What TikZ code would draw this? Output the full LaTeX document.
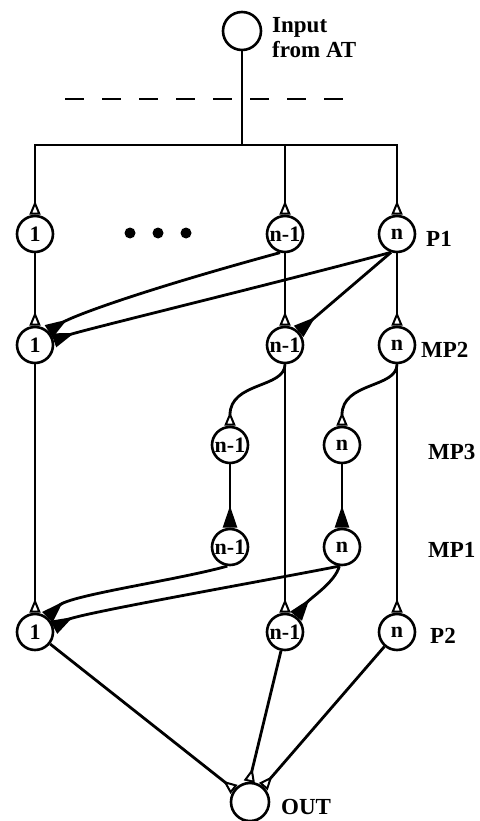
\documentclass[tikz,border=0pt]{standalone}
\usepackage{fontspec}
\setmainfont{Liberation Serif}
\usetikzlibrary{arrows.meta}

\tikzset{
  unit/.style={circle, draw, line width=2.6pt, minimum size=36pt, inner sep=0pt,
               font=\bfseries\fontsize{22}{24}\selectfont},
  port/.style={unit, minimum size=38pt},
  wire/.style={line width=2.8pt},
  excite/.style={wire, -{Triangle[open, reversed, length=14pt, width=11pt, line width=2pt]}},
  inhibit/.style={wire, -{Triangle[reversed, length=22pt, width=14pt]}},
  lbl/.style={font=\bfseries\fontsize{23}{25}\selectfont, anchor=base west, inner sep=0pt},
}

\begin{document}
\begin{tikzpicture}[x=1pt,y=1pt]
\useasboundingbox (0,0) rectangle (479,-821);

% input unit and the separating boundary
\node[port] (in) at (242,-31) {};
\node[lbl] (inA) at (272,-33) {Input};
\node[lbl] (inB) at (272,-58) {from AT};
\draw[wire, dash pattern=on 19pt off 18pt] (65,-99) -- (355,-99);

% layer P1
\node[unit] (p1a) at (35,-234) {1};
\node[unit] (p1b) at (285,-234) {n-1};
\node[unit] (p1c) at (397,-234) {n};
\foreach \x in {130,158,186} \fill (\x,-233) circle (5.5pt);

% layer MP2
\node[unit] (mp2a) at (35,-345) {1};
\node[unit] (mp2b) at (285,-345) {n-1};
\node[unit] (mp2c) at (397,-345) {n};

% layer MP3
\node[unit] (mp3a) at (230,-445) {n-1};
\node[unit] (mp3b) at (342,-445) {n};

% layer MP1
\node[unit] (mp1a) at (230,-547) {n-1};
\node[unit] (mp1b) at (342,-547) {n};

% layer P2
\node[unit] (p2a) at (35,-632) {1};
\node[unit] (p2b) at (285,-632) {n-1};
\node[unit] (p2c) at (397,-632) {n};

% output unit
\node[port] (out) at (250,-802) {};

% layer names
\node[lbl] (lP1) at (426,-246) {P1};
\node[lbl] (lMP2) at (421,-357) {MP2};
\node[lbl] (lMP3) at (428,-459) {MP3};
\node[lbl] (lMP1) at (428,-557) {MP1};
\node[lbl] (lP2) at (430,-643) {P2};
\node[lbl] (lOUT) at (281,-814) {OUT};

% input bus
\coordinate (bj) at (242,-145);
\draw[wire] (in) -- (bj);
\draw[excite] (bj) -| (p1a);
\draw[excite] (bj) -| (p1b);
\draw[excite] (bj) -| (p1c);

% P1 -> MP2
\draw[excite] (p1a) -- (mp2a);
\draw[excite] (p1b) -- (mp2b);
\draw[excite] (p1c) -- (mp2c);
\draw[inhibit] (p1b.255) .. controls +(-150,-41) and +(22,14) .. (mp2a.45);
\draw[inhibit] (p1c.252) .. controls +(-120,-32) and +(28,10) .. (mp2a.14);
\draw[inhibit] (p1c.252) -- (mp2b.45);

% MP2 -> MP3
\draw[excite] (mp2b.south) .. controls +(0,-24) and +(0,44) .. (mp3a.north);
\draw[excite] (mp2c.south) .. controls +(0,-24) and +(0,44) .. (mp3b.north);

% MP3 -> MP1
\draw[inhibit] (mp3a) -- (mp1a);
\draw[inhibit] (mp3b) -- (mp1b);

% MP1 -> P2
\draw[inhibit] (mp1a.262) .. controls +(-50,-14) and +(22,22) .. (p2a.50);
\draw[inhibit] (mp1b.262) .. controls +(-60,-12) and +(26,14) .. (p2a.14);
\draw[inhibit] (mp1b.262) .. controls +(-4,-16) and +(14,18) .. (p2b.55);

% MP2 -> P2
\draw[excite] (mp2a) -- (p2a);
\draw[excite] (mp2b) -- (p2b);
\draw[excite] (mp2c) -- (p2c);

% P2 -> OUT
\draw[excite] (p2a) -- (out);
\draw[excite] (p2b.258) -- (out.92);
\draw[excite] (p2c) -- (out);
\end{tikzpicture}
\end{document}
